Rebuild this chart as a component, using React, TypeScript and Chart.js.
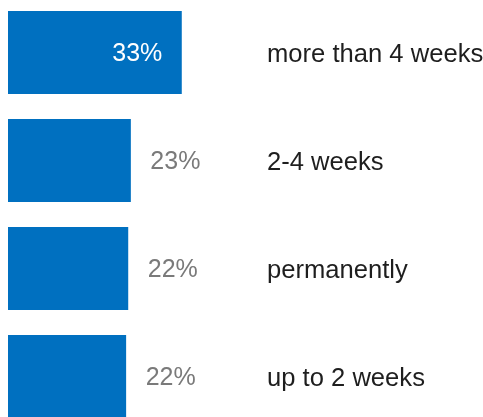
import React, { useEffect, useRef } from "react";
import { Chart, registerables } from "chart.js";

Chart.register(...registerables);

const categories: string[] = ["more than 4 weeks", "2-4 weeks", "permanently", "up to 2 weeks"];
const values: number[] = [33.1, 23.4, 22.9, 22.5];
const valueLabels: string[] = ["33%", "23%", "22%", "22%"];
const xMax = 48;

const BAR_COLOR = "#0070C0";
const VALUE_FONT = '25px "Liberation Sans", Arial, sans-serif';
const CAT_FONT = '25.6px "Liberation Sans", Arial, sans-serif';

const labelPlugin = {
  id: "barLabels",
  afterDatasetsDraw(chart: any) {
    const ctx = chart.ctx;
    const meta = chart.getDatasetMeta(0);
    const area = chart.chartArea;
    ctx.save();
    ctx.textBaseline = "middle";
    meta.data.forEach((bar: any, i: number) => {
      const y = bar.y + 2;
      ctx.font = VALUE_FONT;
      if (i === 0) {
        ctx.fillStyle = "#ffffff";
        ctx.textAlign = "right";
        ctx.fillText(valueLabels[i], bar.x - 19.5, y);
      } else {
        ctx.fillStyle = "#7a7a7a";
        ctx.textAlign = "left";
        ctx.fillText(valueLabels[i], bar.x + 19.5, y);
      }
      ctx.font = CAT_FONT;
      ctx.fillStyle = "#1e1e1e";
      ctx.textAlign = "left";
      ctx.fillText(categories[i], area.right + 7, y);
    });
    ctx.restore();
  },
};

export default function App() {
  const ref = useRef<HTMLCanvasElement | null>(null);

  useEffect(() => {
    if (!ref.current) return;
    const chart = new Chart(ref.current, {
      type: "bar",
      data: {
        labels: categories,
        datasets: [
          {
            data: values,
            backgroundColor: BAR_COLOR,
            borderWidth: 0,
            barPercentage: 1,
            categoryPercentage: 0.77,
          },
        ],
      },
      options: {
        indexAxis: "y",
        animation: false,
        responsive: true,
        maintainAspectRatio: false,
        layout: { padding: { left: 8, right: 223, top: 0.5, bottom: 0.5 } },
        plugins: {
          legend: { display: false },
          tooltip: { enabled: false },
          title: { display: false },
        },
        scales: {
          x: { display: false, min: 0, max: xMax },
          y: { display: false },
        },
      },
      plugins: [labelPlugin],
    });
    return () => chart.destroy();
  }, []);

  return (
    <div
      style={{
        position: "fixed",
        left: 0,
        top: 0,
        width: 483,
        height: 417,
        overflow: "hidden",
        background: "#ffffff",
      }}
    >
      <div style={{ position: "absolute", left: 0, top: -2, width: 483, height: 433 }}>
        <canvas ref={ref} />
      </div>
    </div>
  );
}
